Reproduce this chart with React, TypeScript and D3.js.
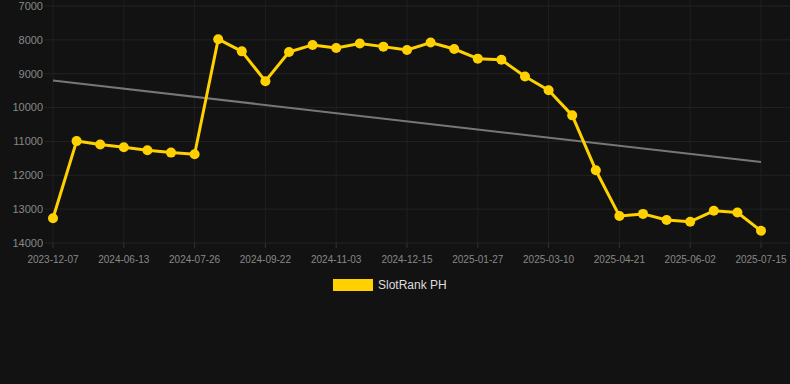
import React from 'react';
import * as d3 from 'd3';

// dates of the samples (one label every third point)
const DATES = [
  '2023-12-07', '2024-05-16', '2024-05-30', '2024-06-13', '2024-06-27', '2024-07-11',
  '2024-07-26', '2024-08-09', '2024-08-23', '2024-09-22', '2024-10-06', '2024-10-20',
  '2024-11-03', '2024-11-17', '2024-12-01', '2024-12-15', '2024-12-29', '2025-01-12',
  '2025-01-27', '2025-02-10', '2025-02-24', '2025-03-10', '2025-03-24', '2025-04-07',
  '2025-04-21', '2025-05-05', '2025-05-19', '2025-06-02', '2025-06-16', '2025-06-30',
  '2025-07-15',
];

const RANKS = [
  13270, 10990, 11090, 11170, 11260, 11330, 11380, 7980, 8340, 9220, 8360, 8150,
  8240, 8110, 8200, 8300, 8080, 8270, 8555, 8590, 9080, 9490, 10230, 11850,
  13200, 13140, 13320, 13370, 13050, 13100, 13640,
];

const TREND = [9200, 11610];
const Y_TICKS = [7000, 8000, 9000, 10000, 11000, 12000, 13000, 14000];
const SERIES_NAME = 'SlotRank PH';

const W = 790;
const H = 384;
const GOLD = '#ffd100';

export default function App() {
  const x = d3.scalePoint<string>().domain(DATES).range([53, 761]);
  const y = d3.scaleLinear().domain([7000, 14000]).range([6, 243]);

  const line = d3.line<number>()
    .x((_, i) => x(DATES[i]) as number)
    .y(d => y(d));

  const labelDates = DATES.filter((_, i) => i % 3 === 0);
  const first = DATES[0];
  const last = DATES[DATES.length - 1];

  return (
    <svg width={W} height={H} style={{ position: 'absolute', left: 0, top: 0, background: '#121212' }}
      fontFamily="'Liberation Sans', Arial, sans-serif">
      <rect width={W} height={H} fill="#121212" />
      {Y_TICKS.map(t => (
        <line key={t} x1={45} x2={W} y1={y(t)} y2={y(t)} stroke="#222" strokeWidth={1} />
      ))}
      {labelDates.map(d => (
        <line key={d} x1={x(d)} x2={x(d)} y1={0} y2={y(14000)} stroke="#1f1f1f" strokeWidth={1} />
      ))}
      {labelDates.map(d => (
        <line key={'t' + d} x1={x(d)} x2={x(d)} y1={y(14000)} y2={y(14000) + 5} stroke="#333" strokeWidth={1} />
      ))}
      {Y_TICKS.map(t => (
        <text key={t} x={43} y={y(t)} dy="0.35em" textAnchor="end" fontSize={11} fill="#888">{t}</text>
      ))}
      {labelDates.map(d => (
        <text key={d} x={x(d)} y={259} dy="0.35em" textAnchor="middle" fontSize={10} fill="#888">{d}</text>
      ))}
      <line x1={x(first)} x2={x(last)} y1={y(TREND[0])} y2={y(TREND[1])} stroke="#777" strokeWidth={2} />
      <path d={line(RANKS) || ''} fill="none" stroke={GOLD} strokeWidth={3} strokeLinejoin="round" />
      {RANKS.map((v, i) => (
        <circle key={i} cx={x(DATES[i])} cy={y(v)} r={5} fill={GOLD} />
      ))}
      <rect x={333} y={279} width={40} height={12} fill={GOLD} />
      <text x={378} y={285} dy="0.35em" fontSize={12} fill="#ddd">{SERIES_NAME}</text>
    </svg>
  );
}
